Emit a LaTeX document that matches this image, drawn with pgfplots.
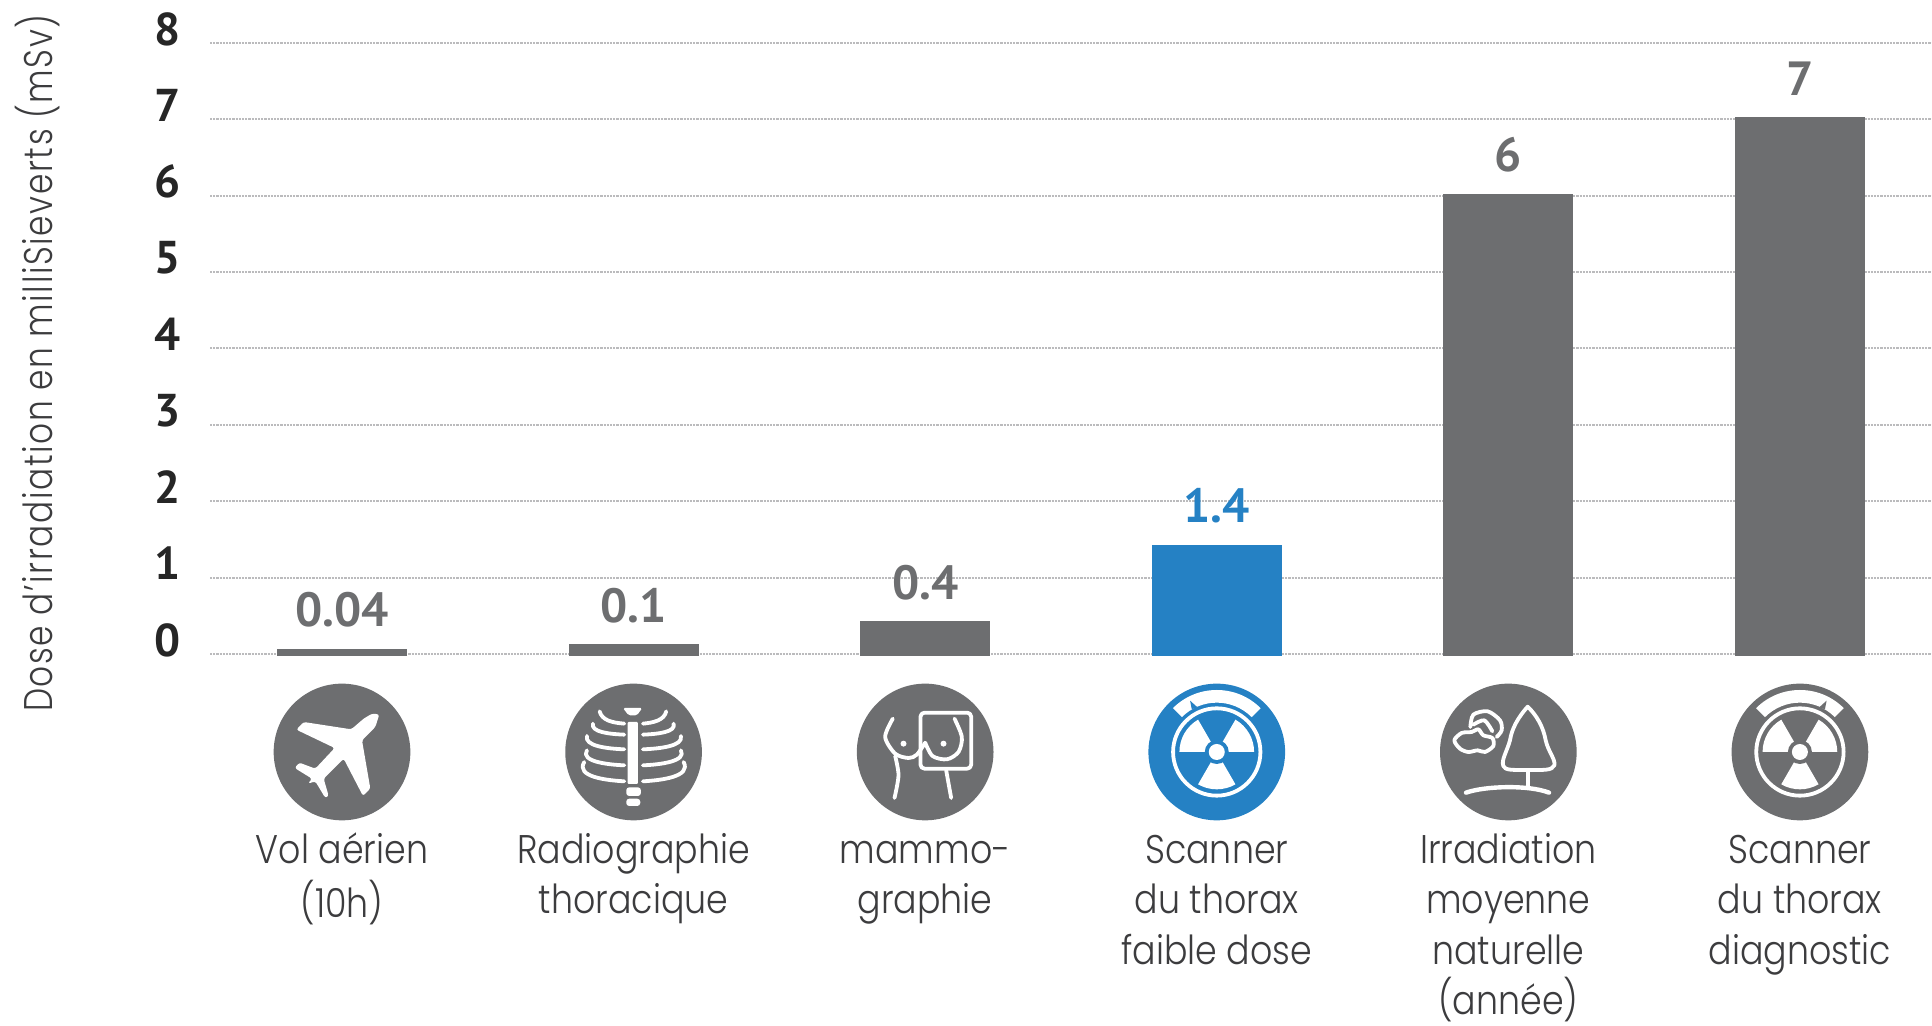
\documentclass[border=0pt]{standalone}
\usepackage{fontspec}
\usepackage{pgfplots}
\usepackage{pgfplotstable}
\pgfplotsset{compat=1.18}
\setmainfont{Poppins Light}
\newfontfamily\labfont[FakeStretch=0.87]{Poppins Light}
\newfontfamily\axisfont[FakeStretch=0.82,LetterSpace=4]{Poppins Light}
\newfontfamily\numfont{PT Sans Bold}
\definecolor{bargrey}{HTML}{6D6E70}
\definecolor{barblue}{HTML}{2581C4}
\definecolor{txt}{HTML}{3C3C3E}
\definecolor{gridgrey}{HTML}{BBBBBD}

% doses in millisieverts
\pgfplotstableread{
x y label
0 0.04 0.04
1 0.1 0.1
2 0.4 0.4
4 6 6
5 7 7
}\greydoses
\pgfplotstableread{
x y label
3 1.4 1.4
}\bluedoses

\tikzset{ico/.style={draw=white,line width=1.9pt,line cap=round,line join=round}}

% radiation symbol with the scanner gantry; #3 mirrors the small notch.
% Icon coordinates run over a 480-unit square with y pointing down.
\newcommand\radicon[3]{%
  \begin{scope}[shift={(#1)},yshift=-49pt,x=0.16667pt,y=-0.16667pt,shift={(-240,-240)}]
    \fill[#2] (240,240) circle (205);
    \fill[white] (240,240) ++(225:186) arc[start angle=225,end angle=315,radius=186]
       -- ++(135:38) arc[start angle=315,end angle=225,radius=148] -- cycle;
    \fill[#2] (240+#3*80,86) -- (240+#3*75,112) -- (240+#3*58,106) -- cycle;
    \draw[white,line width=1.9pt] (240,240) circle (131);
    \foreach \a in {60,180,300}{
      \fill[white] (240,240) -- ++(\a:112) arc[start angle=\a,end angle=\a+60,radius=112] -- cycle;
    }
    \fill[#2] (240,240) circle (36);
    \fill[white] (240,240) circle (24);
  \end{scope}%
}

\begin{document}
\begin{tikzpicture}
\useasboundingbox (0,0) rectangle (966pt,513pt);
\begin{axis}[
  at={(105pt,186pt)},
  anchor=south west,
  scale only axis,
  width=861pt, height=305.5pt,
  xmin=-0.4527, xmax=5.453,
  ymin=0, ymax=8,
  clip=false,
  axis line style={draw=none},
  major tick length=0pt,
  ytick={0,1,...,8},
  xtick={0,1,2,3,4,5},
  xticklabels={
    {\strut Vol aérien\\(10h)},
    {\strut Radiographie\\thoracique},
    {\strut mammo-\\graphie},
    {\strut Scanner\\du thorax\\faible dose},
    {\strut Irradiation\\moyenne\\naturelle\\(année)},
    {\strut Scanner\\du thorax\\diagnostic}},
  xticklabel style={anchor=north,align=center,inner sep=0pt,yshift=-86.6pt,text=txt,
    font=\labfont\fontsize{20pt}{25.3pt}\selectfont},
  yticklabel style={anchor=east,inner sep=0pt,xshift=-14.5pt,yshift=7pt,text=black!85,
    font=\numfont\fontsize{23pt}{25pt}\selectfont,
    /pgf/number format/assume math mode=true},
  ymajorgrids,
  grid style={draw=gridgrey,line width=1pt,dash pattern=on 1.1pt off .5pt},
  ylabel={Dose d’irradiation en milliSieverts (mSv)},
  every axis y label/.style={at={(axis description cs:-0.0999,0.476)},rotate=90,anchor=center,
    text=txt,font=\axisfont\fontsize{20pt}{24pt}\selectfont},
  ybar,
  bar shift=0pt,
  bar width=62.8pt,
  nodes near coords,
  point meta=explicit symbolic,
  every node near coord/.style={anchor=center,inner sep=0pt,yshift=20.5pt,
    font=\numfont\fontsize{24pt}{25pt}\selectfont},
]
\addplot[fill=bargrey,draw=bargrey,line width=2.2pt,nodes near coords style={text=bargrey}]
  table[x=x,y=y,meta=label]{\greydoses};
\addplot[fill=barblue,draw=barblue,line width=2.2pt,nodes near coords style={text=barblue}]
  table[x=x,y=y,meta=label]{\bluedoses};
\coordinate (c0) at (axis cs:0,0);
\coordinate (c1) at (axis cs:1,0);
\coordinate (c2) at (axis cs:2,0);
\coordinate (c3) at (axis cs:3,0);
\coordinate (c4) at (axis cs:4,0);
\coordinate (c5) at (axis cs:5,0);
\end{axis}

% aeroplane
\begin{scope}[shift={(c0)},yshift=-49pt,x=0.16667pt,y=-0.16667pt,shift={(-240,-240)}]
  \fill[bargrey] (240,240) circle (205);
  \fill[white,rounded corners=1.2pt] (352,127) -- (330,125) -- (305,140) -- (268,172) -- (125,150) -- (103,173)
    -- (218,228) -- (160,290) -- (112,272) -- (98,288) -- (150,320) -- (138,335) -- (160,328)
    -- (190,378) -- (200,372) -- (185,320) -- (245,260) -- (303,372) -- (325,350) -- (300,205)
    -- (340,165) -- cycle;
\end{scope}

% rib cage
\begin{scope}[shift={(c1)},yshift=-49pt,x=0.16667pt,y=-0.16667pt,shift={(-240,-240)}]
  \fill[bargrey] (240,240) circle (205);
  \fill[white,rounded corners=.8pt] (208,108) -- (266,108) -- (250,130) -- (225,130) -- cycle;
  \fill[white,rounded corners=.5pt] (222,150) rectangle (253,336);
  \fill[white,rounded corners=1.5pt] (218,346) rectangle (262,372);
  \fill[white,rounded corners=1.5pt] (218,380) rectangle (260,402);
  \draw[ico] (138,118) .. controls (145,145) and (175,152) .. (212,155);
  \draw[ico] (118,155) .. controls (112,180) and (165,186) .. (212,188);
  \draw[ico] (100,192) .. controls (92,222) and (160,230) .. (212,232);
  \draw[ico] (100,235) .. controls (80,268) and (160,278) .. (212,280);
  \draw[ico] (92,270) .. controls (65,315) and (160,325) .. (212,328);
  \draw[ico] (338,118) .. controls (332,145) and (300,152) .. (268,155);
  \draw[ico] (360,155) .. controls (368,180) and (315,186) .. (268,188);
  \draw[ico] (382,192) .. controls (390,222) and (320,230) .. (268,232);
  \draw[ico] (382,235) .. controls (400,268) and (320,278) .. (268,280);
  \draw[ico] (390,270) .. controls (415,315) and (320,325) .. (268,328);
\end{scope}

% mammography screen
\begin{scope}[shift={(c2)},yshift=-49pt,x=0.16667pt,y=-0.16667pt,shift={(-240,-240)}]
  \fill[bargrey] (240,240) circle (205);
  \draw[ico,rounded corners=2pt] (226,122) rectangle (378,290);
  \draw[ico] plot[smooth] coordinates {(143,140) (120,195) (150,245) (190,258) (215,248) (240,212)};
  \draw[ico] plot[smooth] coordinates {(150,252) (160,310) (148,378)};
  \draw[ico] (303,295) -- (318,378);
  \draw[ico,dash pattern=on 3pt off .3pt] plot[smooth] coordinates {(240,212) (262,252) (305,262) (340,240) (350,195) (328,140)};
  \fill[white] (175,215) circle (9);
  \fill[white] (295,215) circle (9);
\end{scope}

\radicon{c3}{barblue}{-1}

% tree and cloud
\begin{scope}[shift={(c4)},yshift=-49pt,x=0.16667pt,y=-0.16667pt,shift={(-240,-240)}]
  \fill[bargrey] (240,240) circle (205);
  \draw[ico] (298,104) .. controls (270,135) and (250,170) .. (245,205) .. controls (235,240) and (218,265) .. (225,282)
     .. controls (230,295) and (250,294) .. (298,294) .. controls (345,294) and (372,296) .. (378,280)
     .. controls (382,262) and (360,240) .. (352,205) .. controls (345,165) and (325,130) .. cycle;
  \draw[ico] (298,294) -- (298,342);
  \draw[ico,line width=2.2pt] (113,362) .. controls (170,342) and (300,338) .. (362,362);
  \draw[ico] plot[smooth cycle] coordinates {(130,180) (100,183) (78,205) (95,230) (120,240) (148,235) (170,240) (195,222) (192,198) (165,190) (150,172)};
  \draw[ico] plot[smooth] coordinates {(126,165) (135,128) (178,118) (215,145) (220,175) (205,195)};
  \draw[ico] plot[smooth] coordinates {(135,158) (168,145) (192,178)};
\end{scope}

\radicon{c5}{bargrey}{1}
\end{tikzpicture}
\end{document}
